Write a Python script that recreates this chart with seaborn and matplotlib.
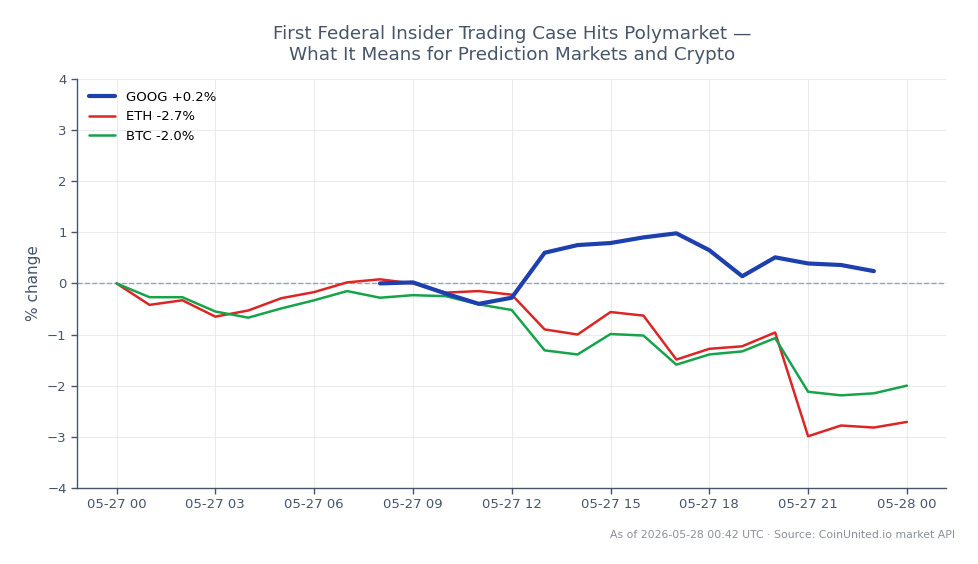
import pandas as pd
import numpy as np
import matplotlib
matplotlib.use('Agg')
import matplotlib.pyplot as plt
import matplotlib.dates as mdates
import seaborn as sns

# Hourly % change since 2026-05-27 00:00 UTC
hours = pd.date_range('2026-05-27 00:00', '2026-05-28 00:00', freq='h')

eth_change = [0.0, -0.42, -0.33, -0.65, -0.53, -0.29, -0.17, 0.02, 0.08, 0.0,
              -0.18, -0.15, -0.22, -0.90, -1.00, -0.56, -0.63, -1.49, -1.28,
              -1.23, -0.96, -2.99, -2.78, -2.82, -2.71]
btc_change = [0.0, -0.27, -0.27, -0.55, -0.67, -0.49, -0.33, -0.15, -0.28, -0.23,
              -0.25, -0.41, -0.52, -1.31, -1.39, -0.99, -1.02, -1.59, -1.39,
              -1.33, -1.07, -2.12, -2.19, -2.15, -2.00]
# GOOG only trades 08:00 - 23:00
goog_hours = hours[8:24]
goog_change = [0.0, 0.02, -0.20, -0.40, -0.28, 0.60, 0.75, 0.79, 0.90, 0.98,
               0.65, 0.14, 0.51, 0.39, 0.36, 0.24]

TITLE = 'First Federal Insider Trading Case Hits Polymarket —\nWhat It Means for Prediction Markets and Crypto'
FOOTER = 'As of 2026-05-28 00:42 UTC · Source: CoinUnited.io market API'

SLATE = '#475569'
GOOG_COLOR = '#1e40af'
ETH_COLOR = '#dc2626'
BTC_COLOR = '#16a34a'

sns.set_theme(style='whitegrid')
plt.rcParams['font.family'] = ['DejaVu Sans']

fig = plt.figure(figsize=(9.79, 5.64), dpi=100)
ax = fig.add_axes([0.0787, 0.135, 0.888, 0.725])

goog_df = pd.DataFrame({'time': goog_hours, 'change': goog_change})
eth_df = pd.DataFrame({'time': hours, 'change': eth_change})
btc_df = pd.DataFrame({'time': hours, 'change': btc_change})

sns.lineplot(data=goog_df, x='time', y='change', ax=ax, color=GOOG_COLOR,
             linewidth=3, label=f'GOOG {goog_change[-1]:+.1f}%', zorder=3)
sns.lineplot(data=eth_df, x='time', y='change', ax=ax, color=ETH_COLOR,
             linewidth=1.8, label=f'ETH {eth_change[-1]:+.1f}%', zorder=2)
sns.lineplot(data=btc_df, x='time', y='change', ax=ax, color=BTC_COLOR,
             linewidth=1.8, label=f'BTC {btc_change[-1]:+.1f}%', zorder=2)

ax.axhline(0, color='#94a3b8', linestyle='--', linewidth=1, zorder=1)

ax.set_ylim(-4, 4)
ax.set_yticks(range(-4, 5))
ax.xaxis.set_major_locator(mdates.HourLocator(byhour=range(0, 24, 3)))
ax.xaxis.set_major_formatter(mdates.DateFormatter('%m-%d %H'))

ax.set_xlabel('')
ax.set_ylabel('% change', color=SLATE, fontsize=11)
ax.set_title(TITLE, color=SLATE, fontsize=13.2, pad=14)

ax.grid(True, color='#e5e7eb', linewidth=0.6)
for side in ['top', 'right']:
    ax.spines[side].set_visible(False)
for side in ['left', 'bottom']:
    ax.spines[side].set_visible(True)
    ax.spines[side].set_color(SLATE)
    ax.spines[side].set_linewidth(1)
ax.set_facecolor('white')
ax.tick_params(axis='both', colors=SLATE, labelsize=9.5, length=4, width=1,
               bottom=True, left=True)

leg = ax.legend(loc='upper left', frameon=False, fontsize=9.5)
for t in leg.get_texts():
    t.set_color('black')

fig.text(0.976, 0.052, FOOTER, ha='right', va='center', fontsize=7.8, color='#8a8f98')

fig.savefig('out.png', dpi=100, facecolor='white')
